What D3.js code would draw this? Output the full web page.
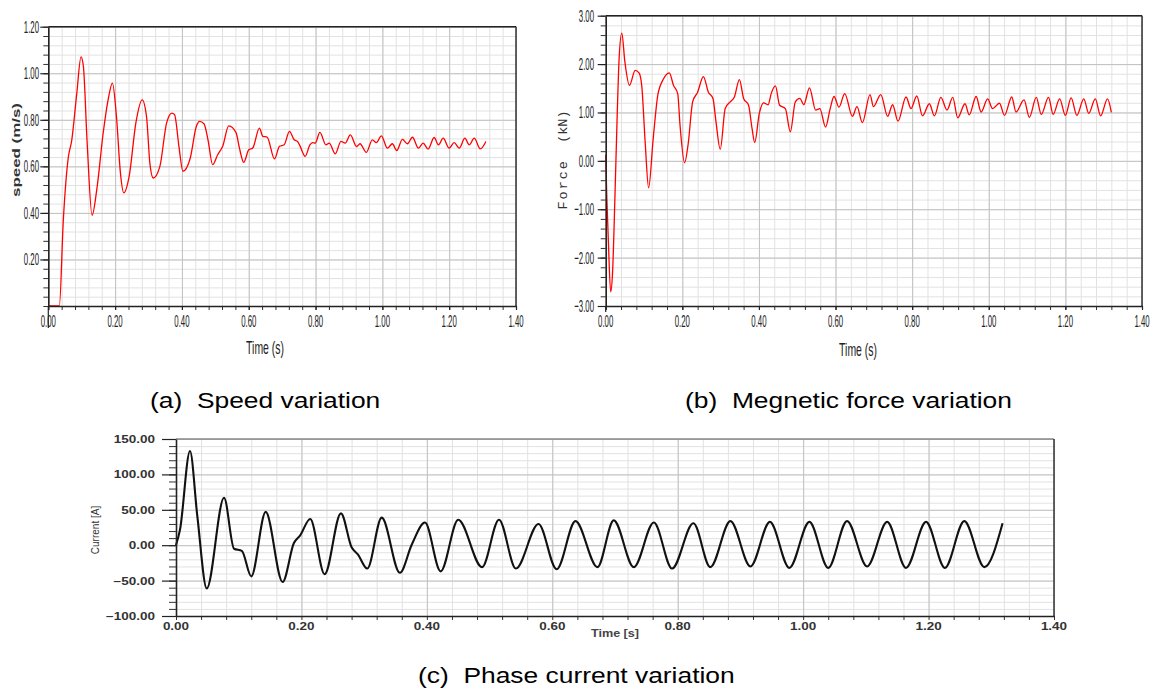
<!DOCTYPE html>
<html>
<head>
<meta charset="utf-8">
<script src="https://cdn.jsdelivr.net/npm/d3@7"></script>
<style>
  body { margin: 0; background: #fff; }
  svg { display: block; font-family: "Liberation Sans", Arial, sans-serif; }
  text { white-space: pre; }
</style>
</head>
<body>
<svg id="chart" width="1157" height="689"></svg>
<script>
// speed (m/s) vs time (s)
var speedData = [
  [0, 0], [0.033, 0], [0.045, 0.37], [0.06, 0.64], [0.07, 0.71], [0.085, 0.91], [0.098, 1.07],
  [0.105, 1.03], [0.116, 0.71], [0.131, 0.39], [0.146, 0.51], [0.164, 0.74], [0.179, 0.886],
  [0.192, 0.958], [0.204, 0.814], [0.216, 0.57], [0.226, 0.486], [0.242, 0.557], [0.262, 0.786],
  [0.281, 0.886], [0.294, 0.814], [0.304, 0.614], [0.314, 0.55], [0.334, 0.6], [0.354, 0.786],
  [0.37, 0.829], [0.378, 0.822], [0.391, 0.686], [0.403, 0.579], [0.425, 0.636], [0.443, 0.771],
  [0.453, 0.793], [0.466, 0.783], [0.478, 0.714], [0.492, 0.607], [0.507, 0.65], [0.522, 0.686],
  [0.54, 0.774], [0.562, 0.745], [0.572, 0.679], [0.585, 0.617], [0.6, 0.671], [0.612, 0.679],
  [0.632, 0.764], [0.642, 0.729], [0.655, 0.726], [0.677, 0.632], [0.692, 0.686], [0.706, 0.693],
  [0.722, 0.75], [0.736, 0.714], [0.746, 0.707], [0.753, 0.689], [0.769, 0.643], [0.783, 0.692],
  [0.791, 0.702], [0.799, 0.7], [0.813, 0.746], [0.831, 0.692], [0.841, 0.7], [0.859, 0.654],
  [0.876, 0.707], [0.889, 0.7], [0.904, 0.735], [0.923, 0.685], [0.933, 0.697], [0.952, 0.66],
  [0.97, 0.714], [0.982, 0.702], [0.997, 0.731], [1.015, 0.678], [1.03, 0.697], [1.043, 0.668],
  [1.06, 0.716], [1.075, 0.697], [1.09, 0.725], [1.108, 0.678], [1.122, 0.7], [1.137, 0.674],
  [1.155, 0.724], [1.168, 0.692], [1.182, 0.721], [1.2, 0.678], [1.215, 0.702], [1.23, 0.678],
  [1.247, 0.721], [1.26, 0.692], [1.275, 0.721], [1.293, 0.675], [1.31, 0.707]
];

// magnetic force (kN) vs time (s), panel (b)
var forceData = [
  [0, 0.12], [0.003, -0.78], [0.007, -1.67], [0.013, -2.71], [0.018, -2.29], [0.024, -0.78],
  [0.03, 0.94], [0.035, 2.11], [0.042, 2.64], [0.05, 2.05], [0.062, 1.56], [0.077, 1.87],
  [0.087, 1.82], [0.094, 1.56], [0.103, 0.39], [0.112, -0.56], [0.124, 0.46], [0.136, 1.36],
  [0.15, 1.68], [0.166, 1.82], [0.177, 1.56], [0.188, 1.39], [0.194, 0.74], [0.206, -0.04],
  [0.215, 0.33], [0.227, 1.22], [0.24, 1.42], [0.255, 1.74], [0.268, 1.42], [0.28, 1.29],
  [0.288, 0.8], [0.299, 0.24], [0.312, 1.08], [0.325, 1.22], [0.336, 1.32], [0.349, 1.68],
  [0.36, 1.29], [0.373, 1.15], [0.382, 0.67], [0.389, 0.38], [0.401, 0.98], [0.412, 1.2],
  [0.424, 1.16], [0.432, 1.39], [0.443, 1.55], [0.454, 1.15], [0.469, 1.08], [0.482, 0.6],
  [0.495, 1.22], [0.507, 1.29], [0.517, 1.16], [0.532, 1.51], [0.548, 1.05], [0.559, 1.08],
  [0.574, 0.7], [0.586, 1.08], [0.596, 1.33], [0.609, 1.11], [0.624, 1.39], [0.644, 0.92],
  [0.656, 1.12], [0.67, 0.79], [0.69, 1.37], [0.699, 1.12], [0.718, 1.37], [0.736, 0.92],
  [0.749, 1.16], [0.763, 0.82], [0.784, 1.32], [0.797, 1.08], [0.812, 1.34], [0.827, 0.93],
  [0.845, 1.18], [0.858, 0.93], [0.875, 1.31], [0.891, 1.05], [0.906, 1.31], [0.919, 0.89],
  [0.938, 1.18], [0.949, 0.95], [0.967, 1.33], [0.98, 1.01], [0.997, 1.28], [1.01, 1.08],
  [1.028, 1.19], [1.041, 0.94], [1.06, 1.32], [1.071, 1.01], [1.092, 1.26], [1.106, 0.9],
  [1.124, 1.31], [1.137, 0.96], [1.156, 1.31], [1.168, 0.96], [1.185, 1.28], [1.2, 0.94],
  [1.215, 1.3], [1.23, 0.94], [1.248, 1.28], [1.261, 0.98], [1.278, 1.28], [1.292, 0.93],
  [1.31, 1.28], [1.32, 1.0]
];

// phase current (A) vs time (s), panel (c)
var currentData = [
  [0, 0], [0.0064, 22], [0.0223, 133], [0.034, 41], [0.049, -61], [0.0766, 67], [0.0926, -5],
  [0.105, -8], [0.12, -44], [0.143, 47], [0.17, -52], [0.188, 3], [0.198, 14], [0.214, 37],
  [0.237, -41], [0.263, 45], [0.28, -3], [0.29, -13], [0.305, -33], [0.328, 39], [0.357, -39],
  [0.376, 1], [0.397, 32], [0.422, -37], [0.45, 36], [0.488, -31], [0.515, 36], [0.542, -33],
  [0.578, 30], [0.607, -34], [0.637, 34], [0.672, -31], [0.698, 35], [0.73, -31], [0.762, 32],
  [0.791, -33], [0.825, 31], [0.852, -31], [0.884, 34], [0.916, -30], [0.947, 33], [0.978, -32],
  [1.01, 33], [1.04, -32], [1.07, 34], [1.102, -30], [1.134, 33], [1.164, -32], [1.196, 33],
  [1.226, -32], [1.257, 34], [1.289, -31], [1.318, 31]
];

var timeTicks = [0, 0.2, 0.4, 0.6, 0.8, 1.0, 1.2, 1.4];
var speedTicks = [0.2, 0.4, 0.6, 0.8, 1.0, 1.2];
var forceTicks = [-3, -2, -1, 0, 1, 2, 3];
var currentTicks = [-100, -50, 0, 50, 100, 150];

var captionTags = ["(a)", "(b)", "(c)"];
var captionTexts = ["Speed variation", "Megnetic force variation", "Phase current variation"];

var svg = d3.select("#chart");
var fmt = d3.format(".2f");

function step(lo, hi, s) {
  var n = Math.round((hi - lo) / s);
  return d3.range(n + 1).map(function (i) { return +(lo + i * s).toFixed(4); });
}

// text squeezed or stretched sideways, like the raster the chart came from
function label(g, x, y, txt, o) {
  return g.append("text")
    .attr("transform", "translate(" + x + "," + y + ")" + (o.rot ? " rotate(-90)" : "") + " scale(" + o.sx + ",1)")
    .attr("text-anchor", o.anchor)
    .attr("font-family", o.family || null)
    .attr("font-size", o.size)
    .attr("font-weight", o.weight || "normal")
    .attr("fill", o.color || "#222")
    .text(txt);
}

function panel(p) {
  var x = d3.scaleLinear().domain([0, 1.4]).range([p.left, p.right]);
  var y = d3.scaleLinear().domain(p.yDomain).range([p.bottom, p.top]);
  var w = p.right - p.left, h = p.bottom - p.top;
  var g = svg.append("g");

  var xMinor = step(0, 1.4, 0.04);
  var yMinor = step(p.yDomain[0], p.yDomain[1], p.yMinor);

  // minor grid
  g.append("g").attr("transform", "translate(0," + p.bottom + ")")
    .call(d3.axisBottom(x).tickValues(xMinor).tickSize(-h).tickFormat(""))
    .call(function (a) { a.select(".domain").remove(); a.selectAll("line").attr("stroke", "#e2e2e2"); });
  g.append("g").attr("transform", "translate(" + p.left + ",0)")
    .call(d3.axisLeft(y).tickValues(yMinor).tickSize(-w).tickFormat(""))
    .call(function (a) { a.select(".domain").remove(); a.selectAll("line").attr("stroke", "#e2e2e2"); });
  // major grid
  g.append("g").attr("transform", "translate(0," + p.bottom + ")")
    .call(d3.axisBottom(x).tickValues(timeTicks).tickSize(-h).tickFormat(""))
    .call(function (a) { a.select(".domain").remove(); a.selectAll("line").attr("stroke", "#c2c2c2"); });
  g.append("g").attr("transform", "translate(" + p.left + ",0)")
    .call(d3.axisLeft(y).tickValues(p.yTicks).tickSize(-w).tickFormat(""))
    .call(function (a) { a.select(".domain").remove(); a.selectAll("line").attr("stroke", "#c2c2c2"); });

  // frame top and right
  g.append("line").attr("x1", p.left).attr("x2", p.right).attr("y1", p.top).attr("y2", p.top)
    .attr("stroke", p.topColor).attr("stroke-width", 1.5);
  g.append("line").attr("x1", p.right).attr("x2", p.right).attr("y1", p.top).attr("y2", p.bottom)
    .attr("stroke", "#333").attr("stroke-width", 1.5);

  // the curve
  g.append("path")
    .datum(p.data)
    .attr("fill", "none")
    .attr("stroke", p.color)
    .attr("stroke-width", p.lineWidth)
    .attr("stroke-linejoin", "round")
    .attr("d", d3.line()
      .x(function (d) { return x(d[0]); })
      .y(function (d) { return y(d[1]); })
      .curve(d3.curveMonotoneX));

  // minor ticks
  g.append("g").attr("transform", "translate(0," + p.bottom + ")")
    .call(d3.axisBottom(x).tickValues(xMinor).tickSize(4).tickFormat(""))
    .call(function (a) { a.select(".domain").remove(); a.selectAll("line").attr("stroke", "#333"); });
  g.append("g").attr("transform", "translate(" + p.left + ",0)")
    .call(d3.axisLeft(y).tickValues(yMinor).tickSize(p.minorTick).tickFormat(""))
    .call(function (a) { a.select(".domain").remove(); a.selectAll("line").attr("stroke", "#333"); });

  // major axes, labels drawn separately
  var xa = g.append("g").attr("transform", "translate(0," + p.bottom + ")")
    .call(d3.axisBottom(x).tickValues(timeTicks).tickSize(p.xTick).tickSizeOuter(0).tickFormat(""));
  var ya = g.append("g").attr("transform", "translate(" + p.left + ",0)")
    .call(d3.axisLeft(y).tickValues(p.yTicks).tickSize(p.yTick).tickSizeOuter(0).tickFormat(""));
  [xa, ya].forEach(function (a) {
    a.select(".domain").attr("stroke", "#222").attr("stroke-width", 1.6);
    a.selectAll("line").attr("stroke", "#222").attr("stroke-width", 1.2);
  });
  if (p.axisDrop) {
    g.append("line").attr("x1", p.left).attr("x2", p.left)
      .attr("y1", p.bottom).attr("y2", p.bottom + p.axisDrop)
      .attr("stroke", "#222").attr("stroke-width", 1.2);
  }

  var t = p.tick;
  timeTicks.forEach(function (v) {
    label(g, x(v), p.bottom + t.xDy, fmt(v), {anchor: "middle", size: t.size, sx: t.sx, weight: t.weight, color: t.color});
  });
  p.yTicks.forEach(function (v) {
    label(g, p.yLabelX, y(v) + t.yDy, fmt(v), {anchor: "end", size: t.size, sx: t.sx, weight: t.weight, color: t.color});
  });

  // axis titles
  label(g, p.xTitle.x, p.xTitle.y, p.xLabel, p.xTitle);
  var yt = label(g, p.yTitle.x, p.yTitle.y, p.yLabel, p.yTitle);
  if (p.yTitle.len) yt.attr("textLength", p.yTitle.len).attr("lengthAdjust", "spacingAndGlyphs");
  return yt;
}

panel({
  data: speedData, color: "#ff0000", lineWidth: 1.3,
  left: 48.3, right: 516, top: 26.7, bottom: 306,
  yDomain: [0, 1.2], yTicks: speedTicks, yMinor: 0.04, topColor: "#222",
  xTick: 4, yTick: 8, minorTick: 5, axisDrop: 22, yLabelX: 39,
  tick: {size: 17, sx: 0.46, xDy: 21, yDy: 6, color: "#222"},
  xLabel: "Time (s)", xTitle: {x: 265, y: 354, anchor: "middle", size: 18, sx: 0.58},
  yLabel: "speed (m/s)", yTitle: {x: 20, y: 150, anchor: "middle", size: 11, sx: 1, weight: "bold", color: "#333", rot: true, len: 94}
});

var forceTitle = panel({
  data: forceData, color: "#ff0000", lineWidth: 1.3,
  left: 605.7, right: 1142, top: 15.7, bottom: 306,
  yDomain: [-3, 3], yTicks: forceTicks, yMinor: 0.2, topColor: "#222",
  xTick: 4, yTick: 8, minorTick: 5, axisDrop: 6, yLabelX: 594,
  tick: {size: 17, sx: 0.46, xDy: 21, yDy: 6, color: "#222"},
  xLabel: "Time (s)", xTitle: {x: 858, y: 356, anchor: "middle", size: 18, sx: 0.58},
  yLabel: "", yTitle: {x: 567, y: 160, anchor: "middle", size: 13.5, sx: 1, family: "Liberation Mono, monospace", color: "#333", rot: true}
});
forceTitle.append("tspan").attr("letter-spacing", 2).text("Force");
forceTitle.append("tspan").text("  (kN)");

panel({
  data: currentData, color: "#111", lineWidth: 2.1,
  left: 176, right: 1054, top: 439, bottom: 616,
  yDomain: [-100, 150], yTicks: currentTicks, yMinor: 10, topColor: "#888",
  xTick: 0, yTick: 14, minorTick: 7, axisDrop: 0, yLabelX: 155,
  tick: {size: 10, sx: 1.35, xDy: 14, yDy: 4, weight: "bold", color: "#333"},
  xLabel: "Time [s]", xTitle: {x: 615, y: 637, anchor: "middle", size: 10.5, sx: 1.2, weight: "bold", color: "#444"},
  yLabel: "Current [A]", yTitle: {x: 99, y: 530, anchor: "middle", size: 10, sx: 1, color: "#333", rot: true}
});

// captions under each panel
var capPos = [[150, 408], [685, 408], [418, 683]];
captionTags.forEach(function (tag, i) {
  label(svg, capPos[i][0], capPos[i][1], tag + "  " + captionTexts[i],
    {anchor: "start", size: 22, sx: 1.2, color: "#000"});
});
</script>
</body>
</html>
